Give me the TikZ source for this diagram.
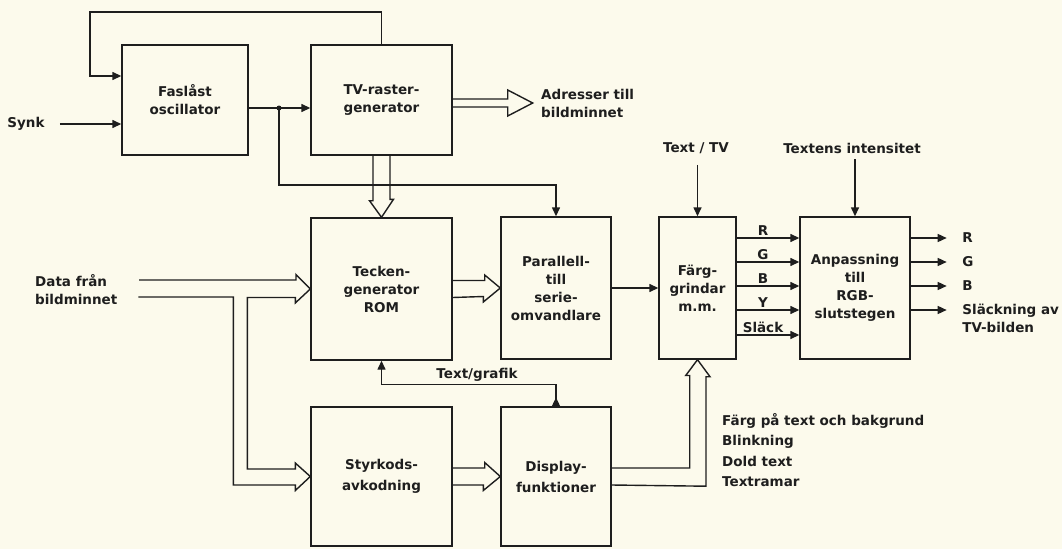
\documentclass[tikz,border=0pt]{standalone}
\usepackage{fontspec}
\setmainfont{DejaVu Sans}
\usepackage{tikz}
\usetikzlibrary{arrows.meta,decorations.markings}
\definecolor{paper}{RGB}{252,250,236}
\definecolor{ink}{RGB}{30,30,30}
\newcommand\bdfont{\fontsize{13.5}{18}\selectfont\bfseries}
\newcommand\legfont{\fontsize{13.5}{20.5}\selectfont\bfseries}
\tikzset{
  bdbox/.style={draw=ink, line width=1.4pt, inner sep=0pt, align=center, font=\bdfont, text=ink},
  bdsig/.style={color=ink, line width=1.4pt, -{Triangle[length=9pt,width=8pt]}},
  bdbus/.style={draw=ink, line width=1.4pt, line join=miter},
  bdtext/.style={font=\bdfont, text=ink, inner sep=1pt},
}

\begin{document}
\begin{tikzpicture}[x=1pt, y=-1pt]
\fill[paper] (0,0) rectangle (1062,549);
\useasboundingbox (0,0) rectangle (1062,549);
% blocks
\node[bdbox, minimum width=126pt, minimum height=110pt] (fas) at (185,100) {Faslåst\\oscillator};
\node[bdbox, minimum width=141pt, minimum height=110pt] (tv) at (381.5,100) {TV-raster-\\generator};
\node[bdbox, minimum width=141pt, minimum height=142pt] (teck) at (381.5,289) {Tecken-\\generator\\ROM};
\node[bdbox, minimum width=110pt, minimum height=142pt] (par) at (556,288) {Parallell-\\till\\serie-\\omvandlare};
\node[bdbox, minimum width=77pt, minimum height=142pt] (farg) at (697.5,288) {Färg-\\grindar\\m.m.};
\node[bdbox, minimum width=110pt, minimum height=142pt] (anp) at (855,288) {Anpassning\\till\\RGB-\\slutstegen};
\node[bdbox, minimum width=141pt, minimum height=139pt] (styr) at (381.5,476.5) {Styrkods-\\[3pt]avkodning};
\node[bdbox, minimum width=110pt, minimum height=139pt] (disp) at (556,476.5) {Display-\\[3pt]funktioner};
% labels
\node[bdtext] (synk) at (26,124) {Synk};
\node[bdtext, anchor=west, align=left] (adr) at (540,103) {Adresser till\\bildminnet};
\node[bdtext, anchor=west, align=left] (data) at (34,290) {Data från\\bildminnet};
\node[bdtext] (ttv) at (696,148) {Text / TV};
\node[bdtext] (tint) at (852,148) {Textens intensitet};
\node[bdtext] (tgr) at (477,375) {Text/grafik};
\node[bdtext, anchor=north west, align=left, font=\legfont] (leg) at (721,412)
  {Färg på text och bakgrund\\Blinkning\\Dold text\\Textramar};
\coordinate (jn) at (279,108);
\coordinate (din) at (139,288.5);
% clock and sync
\draw[bdsig] (tv.north) |- (90,12) |- ([yshift=24pt]fas.west);
\draw[bdsig] ([xshift=14pt]synk.east) -- ([yshift=-24pt]fas.west);
\draw[bdsig] ([yshift=-8pt]fas.east) -- ([yshift=-8pt]tv.west);
\fill[ink] (jn) circle (2.5pt);
\draw[bdsig] (jn) |- (0,185 -| par.north) -- (par.north);
\draw[bdsig] (par.east) -- (farg.west);
\draw[bdsig] (ttv.south -| farg.north) ++(0,10) -- (farg.north);
\draw[bdsig] (tint.south -| anp.north) ++(0,5) -- (anp.north);
\draw[bdsig, postaction={decorate}, decoration={markings,
  mark=at position 9pt with {\arrow{Triangle[length=9pt,width=8pt]}}}]
  (disp.north) -- ++(0,-22) -| (teck.south);
% colour lines
\foreach \chan/\dy in {R/50,G/26,B/2,Y/-22,Släck/-47}
  \draw[bdsig] ([yshift=\dy pt]farg.east) -- ([yshift=\dy pt]anp.west)
    node[bdtext, pos=0.42, above=1pt] {\chan};
\foreach \chan/\dy in {R/50,G/26,B/2}
  \draw[bdsig] ([yshift=\dy pt]anp.east) -- ++(36,0) node[bdtext, right=14pt] {\chan};
\draw[bdsig] ([yshift=-22pt]anp.east) -- ++(36,0)
  node[bdtext, right=14pt, yshift=-8pt, align=left] {Släckning av\\TV-bilden};
% wide buses
\draw[bdbus] ([xshift=-8.5pt]tv.south) -- ++(0,45) -- ++(-3.5,0) -- (teck.north)
  -- ++(12,-18) -- ++(-3.5,0) -- ([xshift=8.5pt]tv.south);
\draw[bdbus] ([yshift=1pt]tv.east) -- ++(55,0) -- ++(0,-9) -- ++(25,13)
  -- ++(-25,13) -- ++(0,-9) -- ([yshift=-7pt]tv.east);
\draw[bdbus] ([yshift=8.5pt]din) -- ++(157,0) -- ++(0,-5.5) -- (teck.west)
  -- ++(-15,14) -- ++(0,-5.5) -- ++(-48,0) -- ++(0,171.5) -- ++(48,0)
  -- ++(0,-6) -- (styr.west) -- ++(-15,14) -- ++(0,-5.5) -- ++(-62,0)
  -- ++(0,-188) -- ++(-95,0);
\draw[bdbus] ([yshift=8.5pt]teck.east) -- ++(32,0) -- ++(0,-5.5) -- (par.west)
  -- ++(-17,14) -- ++(0,-5.5) -- ([yshift=-8.5pt]teck.east);
\draw[bdbus] ([yshift=8.5pt]styr.east) -- ++(32,0) -- ++(0,-5.5) -- (disp.west)
  -- ++(-17,14) -- ++(0,-5.5) -- ([yshift=-8.5pt]styr.east);
\draw[bdbus] ([yshift=8.5pt]disp.east) -- ++(78,0) -- ++(0,-92.5) -- ++(-4,0)
  -- (farg.south) -- ++(12.5,17) -- ++(-4,0) -- ++(0,109.5)
  -- ([yshift=-8.5pt]disp.east);
\end{tikzpicture}
\end{document}
